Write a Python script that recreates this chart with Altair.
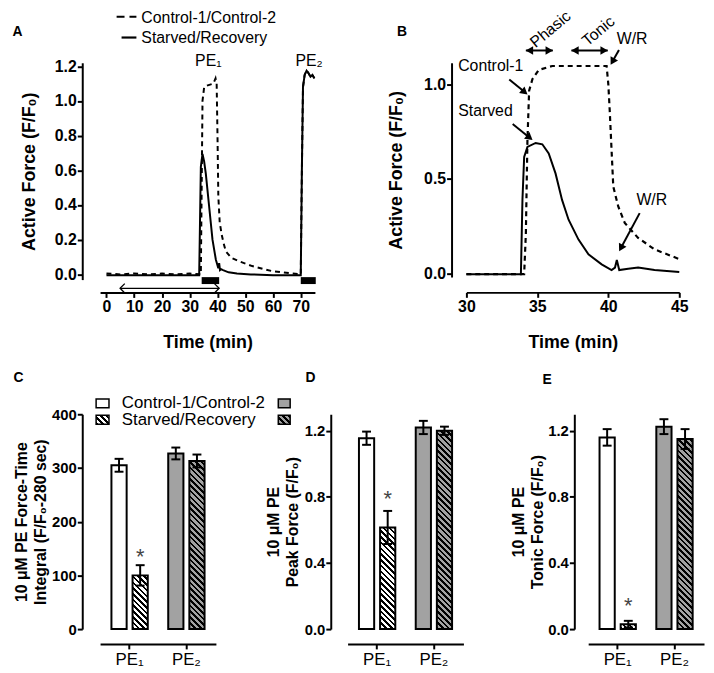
import math
import altair as alt
import pandas as pd

FONT = "Liberation Sans"

# ---------------- Panel A: full time course (min, F/F0) ----------------
a_ctrl_t = [0, 5, 10, 15, 20, 25, 30, 34.0, 34.3, 34.6, 35.2, 36.5, 38.5, 39.3, 39.7, 40.0, 40.3, 40.8,
            41.5, 42.2, 43.0, 45.0, 47.7, 52.5, 59.6, 66.8, 70.0, 70.4, 70.8, 71.4, 72.1, 72.8, 73.5, 74.2, 74.9]
a_ctrl_f = [0.005, 0.0, 0.005, 0.0, 0.005, 0.0, 0.005, 0.0, 0.5, 1.0, 1.08, 1.09, 1.10, 1.13, 1.10, 0.8, 0.45, 0.3,
            0.23, 0.18, 0.133, 0.095, 0.076, 0.048, 0.019, 0.006, 0.0, 0.6, 1.08, 1.15, 1.175, 1.16, 1.14, 1.15, 1.13]
a_starv_t = [0, 10, 20, 30, 33.4, 33.7, 34.0, 34.6, 35.2, 35.8, 37.0, 38.2, 39.4, 40.3, 40.6, 40.9, 41.3, 42.0,
             44.0, 47.0, 52.0, 60.0, 65.0, 70.0, 70.4, 70.8, 71.4, 72.1, 72.8, 73.5, 74.2, 74.9]
a_starv_f = [-0.005, -0.005, -0.005, -0.005, -0.005, 0.3, 0.62, 0.695, 0.65, 0.58, 0.39, 0.2, 0.086, 0.035, 0.065,
             0.025, 0.03, 0.025, 0.012, 0.005, 0.0, -0.005, -0.005, -0.005, 0.6, 1.08, 1.15, 1.175, 1.16, 1.14, 1.15, 1.13]
pe_start = [34.3, 70.0]
pe_end = [40.6, 75.4]
wash_start = [4.9]
wash_end = [40.6]
a_ticks = [0, 10, 20, 30, 40, 50, 60, 70]
a_yticks = [0.0, 0.2, 0.4, 0.6, 0.8, 1.0, 1.2]

# ---------------- Panel B: zoom 30-45 min ----------------
b_starv_t = [30, 33.84, 33.95, 34.07, 34.3, 34.88, 35.35, 35.8, 36.28, 36.74, 37.2, 37.9, 38.6, 39.53, 40.23,
             40.47, 40.6, 40.77, 41.4, 42.1, 43.26, 45.0]
b_starv_f = [-0.005, -0.005, 0.39, 0.615, 0.668, 0.689, 0.682, 0.633, 0.528, 0.388, 0.283, 0.178, 0.10, 0.047,
             0.017, 0.03, 0.07, 0.017, 0.024, 0.03, 0.017, 0.007]
b_ctrl_t = [30, 34.07, 34.19, 34.3, 34.42, 34.65, 35.1, 36.05, 37.5, 39.0, 39.88, 40.0, 40.1, 40.23, 40.35, 40.7,
            41.16, 42.1, 43.26, 45.0]
b_ctrl_f = [-0.005, -0.005, 0.21, 0.7, 0.965, 1.026, 1.075, 1.096, 1.096, 1.096, 1.096, 1.0, 0.86, 0.65, 0.458,
            0.353, 0.266, 0.187, 0.126, 0.075]
b_ticks = [30, 35, 40, 45]
b_yticks = [0.0, 0.5, 1.0]
# annotations (text, t, F, align, angle)
b_text = ["Phasic", "Tonic", "W/R", "Control-1", "Starved", "W/R"]
b_text_t = [35.93, 39.3, 40.59, 29.42, 29.42, 41.98]
b_text_f = [1.29, 1.28, 1.24, 1.094, 0.859, 0.387]
b_text_align = ["center", "center", "left", "left", "left", "left"]
b_text_angle = [320, 320, 0, 0, 0, 0]
# single arrows: tail -> tip
b_arr_t0 = [40.75, 33.02, 33.26, 42.21]
b_arr_f0 = [1.18, 1.025, 0.789, 0.318]
b_arr_t1 = [40.17, 34.3, 34.65, 40.77]
b_arr_f1 = [1.103, 0.946, 0.705, 0.117]
# double arrows (Phasic, Tonic)
b_dbl_t0 = [34.19, 37.4]
b_dbl_t1 = [36.09, 39.96]
b_dbl_f = [1.178, 1.178]

# ---------------- Panels C, D, E: bar summaries ----------------
groups = ["PE₁", "PE₁", "PE₂", "PE₂"]
conds = ["Control", "Starved", "Control", "Starved"]
c_mean = [305, 100, 327, 313]
c_err = [12, 19, 11, 12]
d_mean = [1.155, 0.615, 1.22, 1.20]
d_err = [0.04, 0.10, 0.04, 0.025]
e_mean = [1.16, 0.03, 1.225, 1.15]
e_err = [0.05, 0.02, 0.045, 0.06]
star_c, star_d, star_e = 145, 0.82, 0.176

GREY = "#a2a2a2"
bar_bg = ["white", "white", GREY, GREY]
bar_hatched = [False, True, False, True]

# ---------------- geometry ----------------
A_W, A_H = 217, 219
A_XD, A_YD = [-2.3, 75.1], [-0.03, 1.22]
B_W, B_H = 215, 216.4
B_XD, B_YD = [30, 45], [-0.02, 1.113]
BAR_W, BAR_H = 117, 217
PI, PO, PI2 = 0.36, 0.2, 0.28
step = BAR_W / (2 - PI + 2 * PO)
band = (1 - PI) * step
bar_w = (1 - PI2) * band / (2 - PI2)


def hatch(w, h, bg, fg="black", period=5.8, duty=0.45):
    w = max(w, 1.0)
    h = max(h, 1.0)
    k = (w + h) / (w * w + h * h)
    pt = period / (w + h)
    stops = []
    t = 0.0
    while t < 1.0:
        m = min(t + duty * pt, 1.0)
        e = min(t + pt, 1.0)
        stops += [{"offset": round(t, 5), "color": fg}, {"offset": round(m, 5), "color": fg},
                  {"offset": round(m, 5), "color": bg}, {"offset": round(e, 5), "color": bg}]
        t += pt
    return {"gradient": "linear", "x1": 0, "y1": 1, "x2": k * w, "y2": 1 - k * h, "stops": stops}


def label(s, x, y, size=14, weight="bold", align="center"):
    return alt.Chart(pd.DataFrame({"s": [s]})).mark_text(
        fontSize=size, fontWeight=weight, align=align, baseline="middle", color="black", font=FONT
    ).encode(text="s:N", x=alt.value(x), y=alt.value(y))


def box(x0, x1, y0, y1, fill, sw=1.5):
    return alt.Chart(pd.DataFrame({"a": [0]})).mark_rect(fill=fill, stroke="black", strokeWidth=sw).encode(
        x=alt.value(x0), x2=alt.value(x1), y=alt.value(y0), y2=alt.value(y1))


def cont_axis(**kw):
    return alt.Axis(grid=False, labelFlush=False, labelOverlap=False, **kw)


# ================= Panel A =================
a_xs = alt.Scale(domain=A_XD, nice=False, zero=False)
a_ys = alt.Scale(domain=A_YD, nice=False, zero=False)
a_xa = cont_axis(values=a_ticks, format="d", title="Time (min)", offset=13, titlePadding=20)
a_ya = cont_axis(values=a_yticks, format=".1f", title="Active Force (F/F₀)", offset=18, titlePadding=16)


def AX(f):
    return alt.X(f"{f}:Q", scale=a_xs, axis=a_xa)


def AY(f):
    return alt.Y(f"{f}:Q", scale=a_ys, axis=a_ya)


dfa_s = pd.DataFrame({"t": a_starv_t, "f": a_starv_f})
dfa_c = pd.DataFrame({"t": a_ctrl_t, "f": a_ctrl_f})
a_solid = alt.Chart(dfa_s).mark_line(color="black", strokeWidth=2).encode(x=AX("t"), y=AY("f"))
a_dash = alt.Chart(dfa_c).mark_line(color="black", strokeWidth=2, strokeDash=[5, 4]).encode(x=AX("t"), y=AY("f"))
a_pe = alt.Chart(pd.DataFrame({"t": pe_start, "t2": pe_end})).mark_rect(color="black").encode(
    x=AX("t"), x2="t2:Q", y=alt.value(216.5), y2=alt.value(223.5))
df_w = pd.DataFrame({"t": wash_start, "t2": wash_end})
a_wash = alt.Chart(df_w).mark_rule(color="black", strokeWidth=1.2).encode(
    x=AX("t"), x2="t2:Q", y=alt.value(227.8))
a_wl = alt.Chart(df_w).mark_point(shape="M1,-1L0,0L1,1", filled=False, size=90, strokeWidth=1.3,
                                  color="black", opacity=1).encode(x=AX("t"), y=alt.value(227.8))
a_wr = alt.Chart(df_w).mark_point(shape="M-1,-1L0,0L-1,1", filled=False, size=90, strokeWidth=1.3,
                                  color="black", opacity=1).encode(x=AX("t2"), y=alt.value(227.8))
a_pelab = alt.Chart(pd.DataFrame({"s": ["PE₁", "PE₂"], "t": [36.7, 73.0], "f": [1.229, 1.229]})).mark_text(
    fontSize=16, baseline="middle", color="black", font=FONT).encode(text="s:N", x=AX("t"), y=AY("f"))
a_leg = [
    alt.Chart(pd.DataFrame({"a": [0]})).mark_rule(color="black", strokeWidth=2.2, strokeDash=[8, 5]).encode(
        x=alt.value(16.7), x2=alt.value(36.7), y=alt.value(-46.5)),
    alt.Chart(pd.DataFrame({"a": [0]})).mark_rule(color="black", strokeWidth=2.2).encode(
        x=alt.value(21.7), x2=alt.value(36.7), y=alt.value(-25.5)),
    label("Control-1/Control-2", 41.7, -45.5, size=16, weight="normal", align="left"),
    label("Starved/Recovery", 41.7, -24.8, size=16, weight="normal", align="left"),
    label("A", -83.3, -30.7),
]
panelA = alt.layer(a_solid, a_dash, a_pe, a_wash, a_wl, a_wr, a_pelab, *a_leg).properties(width=A_W, height=A_H)

# ================= Panel B =================
b_xs = alt.Scale(domain=B_XD, nice=False, zero=False)
b_ys = alt.Scale(domain=B_YD, nice=False, zero=False)
b_xa = cont_axis(values=b_ticks, format="d", title="Time (min)", offset=15.5, titlePadding=20)
b_ya = cont_axis(values=b_yticks, format=".1f", title="Active Force (F/F₀)", offset=15, titlePadding=18)
SX = B_W / (B_XD[1] - B_XD[0])
SY = B_H / (B_YD[1] - B_YD[0])


def BX(f):
    return alt.X(f"{f}:Q", scale=b_xs, axis=b_xa)


def BY(f):
    return alt.Y(f"{f}:Q", scale=b_ys, axis=b_ya)


b_solid = alt.Chart(pd.DataFrame({"t": b_starv_t, "f": b_starv_f})).mark_line(
    color="black", strokeWidth=2).encode(x=BX("t"), y=BY("f"))
b_dash = alt.Chart(pd.DataFrame({"t": b_ctrl_t, "f": b_ctrl_f})).mark_line(
    color="black", strokeWidth=2.2, strokeDash=[5, 4]).encode(x=BX("t"), y=BY("f"))

BACK = 3.6
rule_rows, head_rows = [], []
for t0, f0, t1, f1 in zip(b_arr_t0, b_arr_f0, b_arr_t1, b_arr_f1):
    dx = (t1 - t0) * SX
    dy = -(f1 - f0) * SY
    L = math.hypot(dx, dy)
    ang = math.degrees(math.atan2(dx, -dy)) % 360
    ct = t1 - dx / L * BACK / SX
    cf = f1 + dy / L * BACK / SY
    rule_rows.append({"t": t0, "f": f0, "t2": ct, "f2": cf})
    head_rows.append({"t": ct, "f": cf, "ang": ang})
for t0, t1, f in zip(b_dbl_t0, b_dbl_t1, b_dbl_f):
    rule_rows.append({"t": t0, "f": f, "t2": t1, "f2": f})
    head_rows.append({"t": t0 + BACK / SX, "f": f, "ang": 270})
    head_rows.append({"t": t1 - BACK / SX, "f": f, "ang": 90})

b_rules = alt.Chart(pd.DataFrame(rule_rows)).mark_rule(color="black", strokeWidth=2).encode(
    x=BX("t"), y=BY("f"), x2="t2:Q", y2="f2:Q")
b_heads = alt.Chart(pd.DataFrame(head_rows)).mark_point(
    shape="triangle-up", filled=True, size=75, color="black", opacity=1).encode(
    x=BX("t"), y=BY("f"), angle=alt.Angle("ang:Q", scale=None))
b_txt = []
for s, t, f, al, an in zip(b_text, b_text_t, b_text_f, b_text_align, b_text_angle):
    b_txt.append(alt.Chart(pd.DataFrame({"s": [s], "t": [t], "f": [f]})).mark_text(
        fontSize=16, align=al, baseline="middle", angle=an, color="black", font=FONT).encode(
        text="s:N", x=BX("t"), y=BY("f")))
panelB = alt.layer(b_solid, b_dash, b_rules, b_heads, *b_txt, label("B", -65, -31.4)).properties(
    width=B_W, height=B_H)


# ================= Bar panels =================
def bar_panel(means, errs, ymax, yvals, yfmt, ytitle, yoff, ytp, star_val, letter, lxy, legend=False):
    df = pd.DataFrame({"group": groups, "cond": conds, "mean": means, "err": errs})
    df["lo"] = df["mean"] - df["err"]
    df["hi"] = df["mean"] + df["err"]
    ys = alt.Scale(domain=[0, ymax], nice=False, zero=True)
    ya = cont_axis(values=yvals, format=yfmt, title=ytitle, offset=yoff, titlePadding=ytp,
                   labelFontSize=15, titleFontSize=16, titleLineHeight=19, labelPadding=1)

    def Y(f):
        return alt.Y(f"{f}:Q", scale=ys, axis=ya)

    X = alt.X("group:N", scale=alt.Scale(paddingInner=PI, paddingOuter=PO),
              axis=alt.Axis(title=None, labelAngle=0, offset=15, labelFontWeight="normal",
                            labelFontSize=17, labelPadding=3, grid=False))
    XO = alt.XOffset("cond:N", scale=alt.Scale(paddingInner=PI2, paddingOuter=0))
    layers = []
    for i in range(4):
        h = means[i] / ymax * BAR_H
        fill = hatch(bar_w, h, bar_bg[i]) if bar_hatched[i] else bar_bg[i]
        layers.append(alt.Chart(df.iloc[[i]]).mark_bar(fill=fill, stroke="black", strokeWidth=2).encode(
            x=X, xOffset=XO, y=Y("mean")))
    layers.append(alt.Chart(df).mark_rule(color="black", strokeWidth=2).encode(
        x=X, xOffset=XO, y=Y("lo"), y2="hi:Q"))
    for f in ["lo", "hi"]:
        layers.append(alt.Chart(df).mark_tick(color="black", thickness=2, size=9, orient="horizontal",
                                              opacity=1).encode(x=X, xOffset=XO, y=Y(f)))
    sdf = df.iloc[[1]].assign(star=star_val)
    layers.append(alt.Chart(sdf).mark_text(text="*", fontSize=22, color="#444", baseline="middle", dy=6,
                                           font=FONT).encode(x=X, xOffset=XO, y=Y("star")))
    layers.append(label(letter, lxy[0], lxy[1]))
    if legend:
        layers += [
            box(-4, 9, -15.5, -6.5, "white"),
            box(-4, 9, 1, 10, hatch(13, 9, "white")),
            box(180, 192, -15.5, -6.5, GREY),
            box(180, 192, 1, 10, hatch(12, 9, GREY)),
            label("Control-1/Control-2", 22, -11.8, size=17, weight="normal", align="left"),
            label("Starved/Recovery", 22, 6.2, size=17, weight="normal", align="left"),
        ]
    return alt.layer(*layers).properties(width=BAR_W, height=BAR_H)


panelC = bar_panel(c_mean, c_err, 400, [0, 100, 200, 300, 400], "d",
                   ["10 μM PE Force-Time", "Integral (F/F₀-280 sec)"], 18, 3, star_c, "C", (-82.5, -37),
                   legend=True)
panelD = bar_panel(d_mean, d_err, 1.3, [0, 0.4, 0.8, 1.2], ".1f",
                   ["10 μM PE", "Peak Force (F/F₀)"], 17, 4, star_d, "D", (-37.5, -37))
panelE = bar_panel(e_mean, e_err, 1.3, [0, 0.4, 0.8, 1.2], ".1f",
                   ["10 μM PE", "Tonic Force (F/F₀)"], 14, 2, star_e, "E", (-41.5, -35))

top = alt.hconcat(panelA, panelB, spacing=153, bounds="flush")
bottom = alt.hconcat(panelC, alt.hconcat(panelD, panelE, spacing=126, bounds="flush"),
                     spacing=133, bounds="flush")
chart = alt.vconcat(top, bottom, spacing=19).properties(
    padding={"left": 4, "top": -4, "right": 2, "bottom": 0}
).configure_axis(
    labelFont=FONT, titleFont=FONT, labelFontWeight="bold", titleFontWeight="bold",
    labelColor="black", titleColor="black", domainColor="black", tickColor="black",
    domainWidth=2, tickWidth=2, tickSize=5, grid=False, labelFontSize=16, titleFontSize=18,
    labelPadding=1
).configure_view(stroke=None).configure_text(font=FONT)

chart.save("out.html", embed_options={"renderer": "svg", "actions": False})
